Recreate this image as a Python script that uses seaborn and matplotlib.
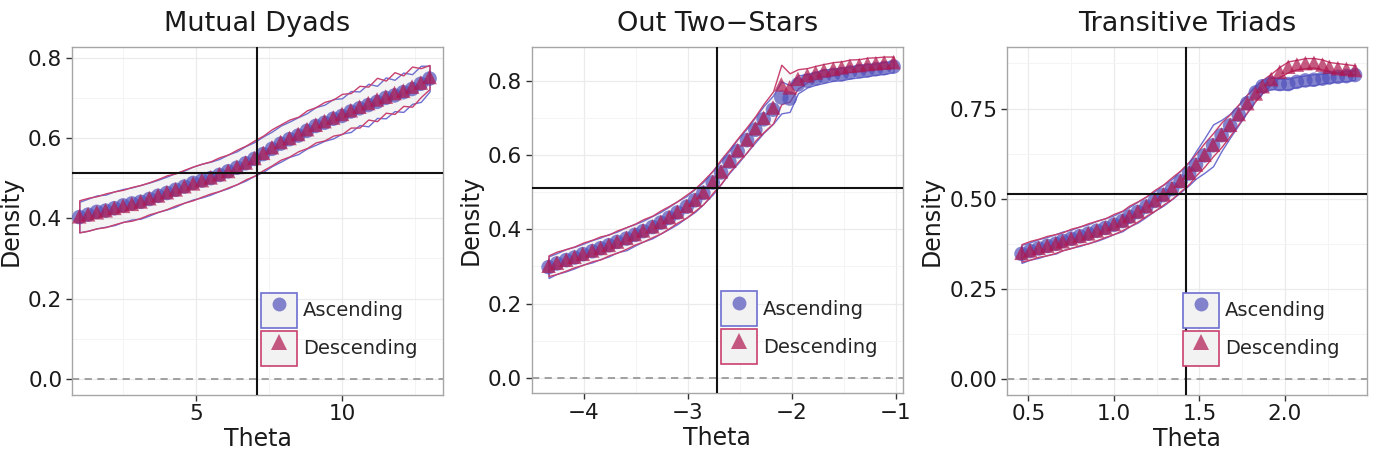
import numpy as np
import pandas as pd
import matplotlib
matplotlib.use("Agg")
import matplotlib.pyplot as plt
import seaborn as sns
from matplotlib.patches import Patch
from matplotlib.lines import Line2D
from matplotlib.legend_handler import HandlerTuple
from matplotlib.ticker import FixedLocator

# ---------------- data ----------------
# Mutual Dyads
md_theta = [1.0, 1.3, 1.6, 1.9, 2.2, 2.5, 2.8, 3.1, 3.4, 3.7, 4.0, 4.3, 4.6, 4.9,
            5.2, 5.5, 5.8, 6.1, 6.4, 6.7, 7.0, 7.3, 7.6, 7.9, 8.2, 8.5, 8.8, 9.1,
            9.4, 9.7, 10.0, 10.3, 10.6, 10.9, 11.2, 11.5, 11.8, 12.1, 12.4, 12.7, 13.0]
md_asc = [.403, .409, .416, .419, .425, .432, .437, .441, .448, .456, .463, .471, .479, .488,
          .494, .500, .508, .517, .526, .537, .548, .560, .573, .586, .597, .606, .618, .630,
          .638, .648, .655, .666, .674, .682, .690, .700, .706, .714, .722, .735, .748]
md_desc = [.405, .410, .415, .420, .426, .431, .436, .442, .450, .457, .465, .472, .480, .487,
           .495, .502, .510, .518, .528, .539, .550, .563, .577, .590, .600, .610, .622, .633,
           .642, .651, .660, .669, .678, .687, .696, .703, .712, .718, .728, .738, .752]
md_asc_hw = [.038, .040, .041, .040, .042, .041, .040, .042, .041, .040, .041, .042, .040, .041,
             .042, .041, .040, .042, .041, .043, .042, .044, .043, .045, .044, .046, .044, .047,
             .045, .049, .044, .051, .042, .053, .040, .051, .039, .049, .037, .045, .032]
md_desc_hw = [.040, .041, .040, .042, .041, .040, .042, .041, .040, .041, .042, .040, .041, .042,
              .041, .040, .042, .041, .043, .042, .044, .043, .045, .044, .046, .043, .047, .044,
              .048, .045, .050, .043, .052, .041, .054, .040, .052, .038, .050, .036, .030]

# Out Two-Stars
os_theta = [-4.34, -4.26, -4.17, -4.09, -4.01, -3.92, -3.84, -3.76, -3.68, -3.59, -3.51,
            -3.43, -3.34, -3.26, -3.18, -3.10, -3.01, -2.93, -2.85, -2.76, -2.68, -2.60,
            -2.52, -2.43, -2.35, -2.27, -2.18, -2.10, -2.02, -1.94, -1.85, -1.77, -1.69,
            -1.60, -1.52, -1.44, -1.35, -1.27, -1.19, -1.11, -1.02]
os_asc = [.298, .308, .317, .324, .333, .341, .349, .357, .366, .375, .385, .395, .406, .418,
          .431, .445, .461, .478, .498, .526, .553, .582, .610, .640, .668, .696, .722, .755,
          .752, .790, .800, .806, .812, .816, .818, .822, .826, .828, .831, .834, .838]
os_desc = [.302, .310, .318, .326, .334, .343, .350, .358, .367, .377, .387, .397, .408, .420,
           .433, .447, .463, .480, .500, .528, .556, .585, .613, .642, .672, .700, .728, .790,
           .782, .805, .815, .822, .828, .832, .836, .840, .842, .845, .847, .849, .850]
os_asc_hw = [.029, .028, .030, .029, .028, .030, .029, .030, .028, .031, .029, .028, .030, .029,
             .030, .031, .029, .031, .030, .032, .031, .030, .033, .032, .034, .036, .038, .043,
             .036, .024, .018, .017, .018, .016, .017, .016, .017, .016, .015, .016, .015]
os_desc_hw = [.028, .030, .029, .028, .030, .029, .031, .028, .030, .029, .028, .030, .029, .031,
              .030, .029, .031, .030, .032, .030, .033, .031, .032, .034, .033, .038, .043, .053,
              .038, .026, .019, .018, .017, .018, .016, .017, .016, .017, .016, .016, .015]

# Transitive Triads
tt_theta = [0.46, 0.51, 0.56, 0.61, 0.66, 0.70, 0.75, 0.80, 0.85, 0.90, 0.95, 1.00, 1.05,
            1.09, 1.14, 1.19, 1.24, 1.29, 1.34, 1.39, 1.44, 1.48, 1.53, 1.58, 1.63, 1.68,
            1.73, 1.78, 1.83, 1.87, 1.92, 1.97, 2.02, 2.07, 2.12, 2.17, 2.22, 2.26, 2.31,
            2.36, 2.41]
tt_asc = [.347, .355, .362, .369, .375, .383, .389, .396, .403, .411, .419, .428, .438, .450,
          .463, .478, .494, .510, .527, .548, .570, .594, .620, .648, .676, .703, .733, .765,
          .795, .812, .820, .818, .818, .824, .828, .830, .833, .836, .838, .840, .843]
tt_desc = [.350, .357, .364, .370, .376, .382, .390, .397, .404, .412, .420, .430, .440, .452,
           .465, .480, .496, .512, .530, .550, .572, .595, .622, .650, .678, .705, .735, .765,
           .792, .812, .832, .852, .866, .872, .876, .877, .872, .866, .862, .860, .857]
tt_asc_hw = [.025, .024, .026, .025, .027, .026, .025, .027, .026, .028, .027, .026, .028, .027,
             .029, .028, .027, .029, .028, .030, .032, .038, .048, .058, .043, .033, .028, .025,
             .021, .018, .016, .015, .015, .014, .014, .015, .013, .014, .013, .014, .013]
tt_desc_hw = [.024, .026, .025, .027, .026, .025, .027, .026, .028, .027, .026, .028, .027, .029,
              .028, .027, .029, .028, .030, .029, .031, .030, .033, .032, .034, .030, .027, .024,
              .020, .018, .015, .014, .015, .013, .014, .013, .014, .013, .014, .013, .013]

titles = ["Mutual Dyads", "Out Two\u2212Stars", "Transitive Triads"]
cut_theta = [7.09, -2.715, 1.42]
cut_density = 0.512

# ---------------- styling ----------------
sns.set_style("white")
plt.rcParams["font.family"] = ["DejaVu Sans"]

ASC_PT = "#5151BC"
DESC_PT = "#B0164E"
ASC_EDGE = "#6E6ED2"
DESC_EDGE = "#C8406E"
TXT = "#1a1a1a"

fig = plt.figure(figsize=(13.77, 4.68), dpi=100)
axes = [fig.add_axes([0.0523, 0.157, 0.2694, 0.742]),
        fig.add_axes([0.3863, 0.160, 0.2694, 0.739]),
        fig.add_axes([0.7313, 0.157, 0.2614, 0.742])]

panels = [
    (md_theta, md_asc, md_asc_hw, md_desc, md_desc_hw,
     (0.75, 13.46), (-0.039, 0.826), [5, 10], [2.5, 7.5, 12.5],
     [0.0, 0.2, 0.4, 0.6, 0.8], [0.1, 0.3, 0.5, 0.7], "{:.1f}"),
    (os_theta, os_asc, os_asc_hw, os_desc, os_desc_hw,
     (-4.50, -0.93), (-0.041, 0.89), [-4, -3, -2, -1], [-4.5, -3.5, -2.5, -1.5],
     [0.0, 0.2, 0.4, 0.6, 0.8], [0.1, 0.3, 0.5, 0.7], "{:.1f}"),
    (tt_theta, tt_asc, tt_asc_hw, tt_desc, tt_desc_hw,
     (0.375, 2.48), (-0.043, 0.92), [0.5, 1.0, 1.5, 2.0], [0.75, 1.25, 1.75, 2.25],
     [0.0, 0.25, 0.5, 0.75], [0.125, 0.375, 0.625, 0.875], "{:.2f}"),
]

for i, (ax, p) in enumerate(zip(axes, panels)):
    theta, asc, asc_hw, desc, desc_hw, xlim, ylim, xt, xmt, yt, ymt, yfmt = p
    th = np.array(theta)

    # grid
    ax.xaxis.set_minor_locator(FixedLocator(xmt))
    ax.yaxis.set_minor_locator(FixedLocator(ymt))
    ax.grid(which="major", color="#EBEBEB", lw=0.9, zorder=0)
    ax.grid(which="minor", color="#F4F4F4", lw=0.7, zorder=0)
    ax.set_axisbelow(True)

    # ribbons
    for m, hw, ec in [(asc, asc_hw, ASC_EDGE), (desc, desc_hw, DESC_EDGE)]:
        m = np.array(m)
        hw = np.array(hw)
        ax.fill_between(th, m - hw, m + hw, facecolor=(0.6, 0.6, 0.6, 0.05),
                        edgecolor=ec, linewidth=1.0, zorder=2)

    df = pd.DataFrame({
        "Theta": list(theta) * 2,
        "Density": list(asc) + list(desc),
        "Order": ["Ascending"] * len(theta) + ["Descending"] * len(theta),
    })
    sns.scatterplot(data=df, x="Theta", y="Density", hue="Order", style="Order",
                    palette={"Ascending": ASC_PT, "Descending": DESC_PT},
                    markers={"Ascending": "o", "Descending": "^"},
                    s=110, alpha=0.7, linewidth=0, legend=False, ax=ax, zorder=3)

    ax.axhline(0, color="#9A9A9A", lw=1.3, ls=(0, (4, 3)), zorder=1)
    ax.axhline(cut_density, color="#111111", lw=1.5, zorder=4)
    ax.axvline(cut_theta[i], color="#111111", lw=1.5, zorder=4)

    ax.set_xlim(*xlim)
    ax.set_ylim(*ylim)
    ax.set_xticks(xt)
    ax.set_xticklabels([f"{v:g}".replace("-", "\u2212") if i != 2 else f"{v:.1f}" for v in xt])
    ax.set_yticks(yt)
    ax.set_yticklabels([yfmt.format(v) for v in yt])
    ax.tick_params(which="major", direction="out", length=4, width=1, color="#333333",
                   labelsize=15.5, labelcolor=TXT, pad=3, bottom=True, left=True)
    ax.tick_params(which="minor", length=0)
    for s in ax.spines.values():
        s.set_color("#A6A6A6")
        s.set_linewidth(1.0)

    ax.set_title(titles[i], fontsize=19.5, color=TXT, pad=12)
    ax.set_xlabel("Theta", fontsize=17, color=TXT, labelpad=2)
    ax.set_ylabel("Density", fontsize=17, color=TXT, labelpad=4)

    handles = [
        (Patch(facecolor="#F2F2F2", edgecolor=ASC_EDGE, lw=1.2),
         Line2D([], [], marker="o", ls="None", color=ASC_PT, alpha=0.7, markersize=10, mew=0)),
        (Patch(facecolor="#F2F2F2", edgecolor=DESC_EDGE, lw=1.2),
         Line2D([], [], marker="^", ls="None", color=DESC_PT, alpha=0.7, markersize=12, mew=0)),
    ]
    ax.legend(handles, ["Ascending", "Descending"],
              handler_map={tuple: HandlerTuple(ndivide=1, pad=0)},
              loc="lower left", bbox_to_anchor=(0.51 if i < 2 else 0.49, 0.083),
              frameon=False, fontsize=14, handlelength=1.85, handleheight=2.4,
              labelspacing=0.15, handletextpad=0.3, borderpad=0, borderaxespad=0)

fig.savefig("out.png", dpi=100)
